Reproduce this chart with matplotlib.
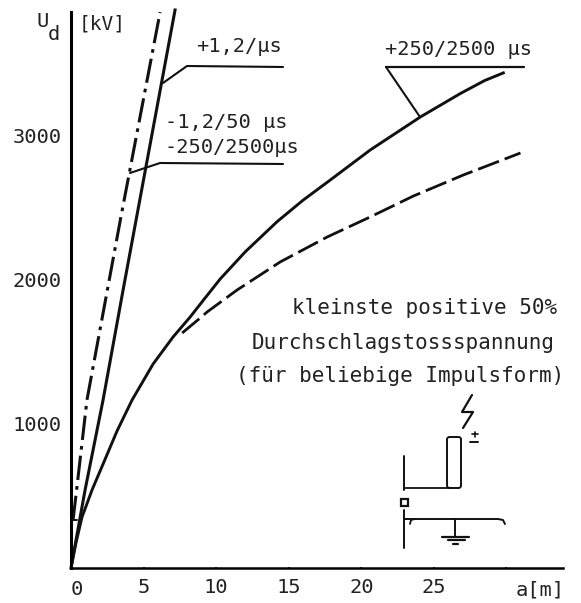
import matplotlib
matplotlib.use('Agg')
import matplotlib.pyplot as plt
from matplotlib.patches import FancyBboxPatch, Rectangle

plt.rcParams['font.family'] = ['DejaVu Sans Mono', 'DejaVu Sans']

# curves (a in m, Ud in kV)
fast_a = [0, 0.97, 2.21, 3.59, 7.17]
fast_u = [0, 542, 1167, 1931, 3875]

neg_a = [0.14, 0.41, 1.10, 3.45, 6.14]
neg_u = [333, 563, 1167, 2444, 3860]

slow_a = [0, 0.34, 0.76, 1.45, 2.21, 3.17, 4.21, 5.66, 7.03, 8.21, 9.24, 10.28,
          12.0, 14.2, 16.0, 17.86, 20.62, 24.07, 26.83, 28.5, 29.79]
slow_u = [0, 174, 354, 542, 722, 951, 1167, 1417, 1604, 1743, 1875, 2007,
          2195, 2405, 2555, 2694, 2903, 3132, 3295, 3385, 3438]

dash_a = [7.66, 8.90, 9.38, 11.45, 14.41, 17.66, 20.62, 23.59, 27.03, 30.97]
dash_u = [1632, 1736, 1778, 1931, 2125, 2299, 2438, 2583, 2729, 2882]

xticks = [0, 5, 10, 15, 20, 25, 30]
xlabels = ['', '5', '10', '15', '20', '25', '']
yticks = [1000, 2000, 3000]

W, H = 581, 603
fig = plt.figure(figsize=(W / 100, H / 100), dpi=100)
ax = fig.add_axes([71 / W, (H - 568) / H, (563 - 71) / W, (568 - 12) / H])
ax.set_xlim(0, 33.9)
ax.set_ylim(0, 3861)
for side in ('top', 'right'):
    ax.spines[side].set_visible(False)
ax.spines['left'].set_linewidth(2.2)
ax.spines['bottom'].set_linewidth(1.8)
ax.set_xticks(xticks)
ax.set_xticklabels(xlabels, fontsize=14.7, color='#222222')
ax.set_yticks(yticks)
ax.set_yticklabels([str(t) for t in yticks], fontsize=14.7, color='#222222')
ax.tick_params(length=2, width=1.2, direction='inout', pad=6)

ax.plot(fast_a, fast_u, color='#111111', lw=2.2, clip_on=False)
ax.plot(neg_a, neg_u, color='#111111', lw=2.2, dashes=(8, 2, 1.2, 2), clip_on=False)
ax.plot(slow_a, slow_u, color='#111111', lw=2.1)
ax.plot(dash_a, dash_u, color='#111111', lw=2.0, dashes=(8, 2.2))

# overlay in picture pixels for the labels, leaders and the little sketch
ov = fig.add_axes([0, 0, 1, 1])
ov.set_xlim(0, W)
ov.set_ylim(H, 0)
ov.axis('off')

def seg(xs, ys, lw=1.4):
    ov.plot(xs, ys, color='#111111', lw=lw, solid_capstyle='round')

seg([71, 77], [520, 520], 1.4)  # foot of the dash-dot curve
seg([163, 187, 283], [83, 66, 67], 1.5)
seg([130, 160, 283], [173, 163, 164], 1.5)
seg([386, 524], [67, 67], 1.6)
seg([386, 420], [67, 117], 1.5)

def label(x, y, s, size=14.7, **kw):
    ov.text(x, y, s, fontsize=size, color='#222222', va='baseline', **kw)

label(36, 27, 'U')
label(48, 40, 'd')
label(79, 29, '[kV]', 14)
label(196, 52, '+1,2/µs')
label(165, 128, '-1,2/50 µs')
label(165, 153, '-250/2500µs')
label(385, 55, '+250/2500 µs')
label(516, 595, 'a[m]')
label(77, 595, '0', ha='center')
label(292, 314, 'kleinste positive 50%', 15)
label(252, 349, 'Durchschlagstossspannung', 15)
label(236, 382, '(für beliebige Impulsform)', 15)

# electrode sketch
seg([404, 404], [456, 490], 1.4)
seg([404, 404], [510, 548], 1.4)
seg([404, 452], [488, 488], 1.3)
ov.add_patch(FancyBboxPatch((449.5, 439.5), 9, 46, boxstyle='round,pad=2.5',
                            fc='white', ec='#111111', lw=1.4))
ov.add_patch(Rectangle((401, 499), 7, 7, fc='white', ec='#111111', lw=1.6))
seg([404, 498, 503, 505], [519, 519, 520, 524], 1.4)
seg([410, 411, 415], [524, 520, 519], 1.3)
seg([455, 455], [519, 537], 1.4)
seg([442, 469], [537, 537], 1.6)
seg([448, 465], [540, 540], 1.6)
seg([453, 458], [544, 544], 1.6)
# spark and polarity
seg([472, 462, 473, 463], [395, 412, 412, 428], 1.6)
seg([472, 478], [434, 434], 1.2)
seg([475, 475], [432, 437], 1.2)
seg([470, 478], [442, 442], 1.4)

fig.savefig('out.png', dpi=100)
plt.close(fig)
